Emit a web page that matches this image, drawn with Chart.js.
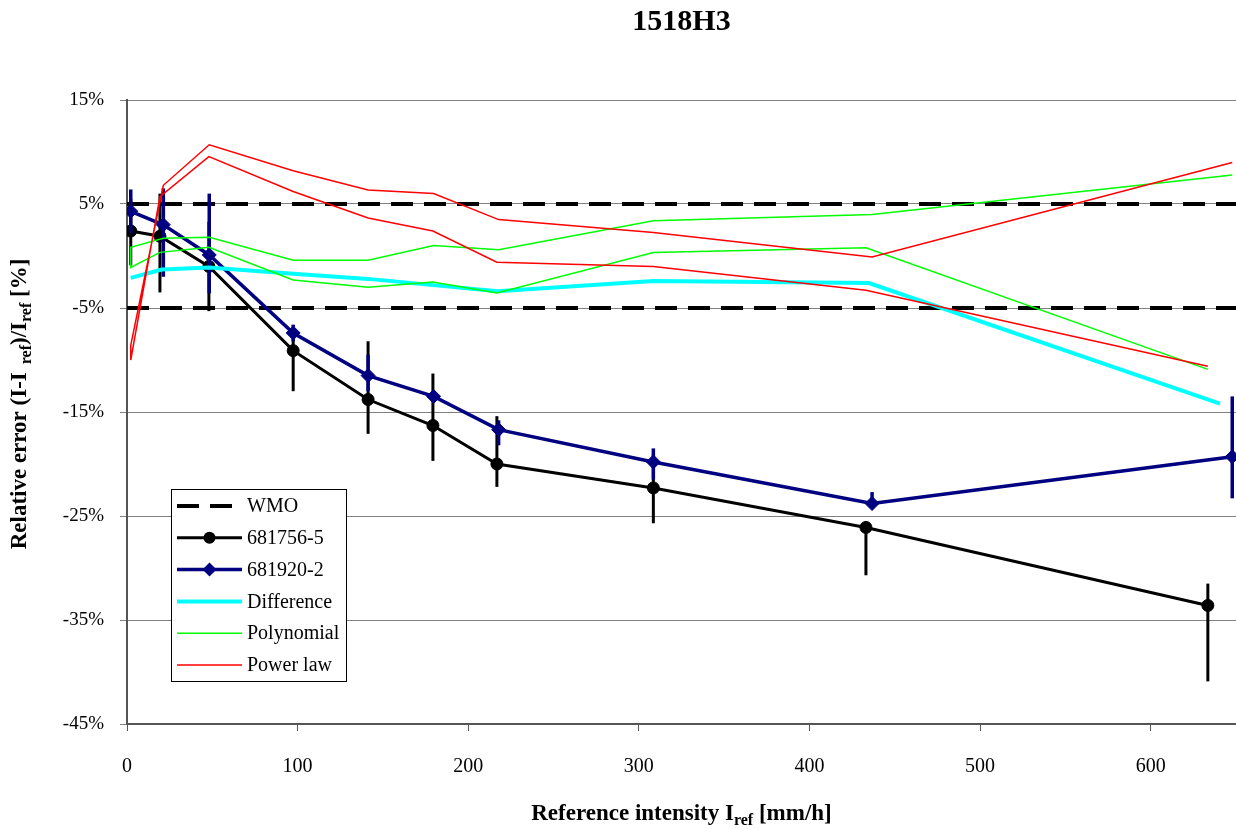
<!DOCTYPE html>
<html><head><meta charset="utf-8">
<script src="https://cdn.jsdelivr.net/npm/chart.js@4/dist/chart.umd.min.js"></script>
<style>html,body{margin:0;padding:0;background:#fff;overflow:hidden;}#wrap{width:1236px;height:829px;overflow:hidden;}</style>
</head><body><div id="wrap"><canvas id="c" width="1244" height="829"></canvas></div>
<script>
const chartTitle = '1518H3';
const xTickValues = [0, 100, 200, 300, 400, 500, 600];
const yTickValues = [-45, -35, -25, -15, -5, 5, 15];
const wmoX = [0, 650];
const wmoUpper = [5, 5];
const wmoLower = [-5, -5];

const s1Label = '681756-5';
const s1X  = [2.2, 19.3, 48.0, 97.4, 141.3, 179.3, 216.8, 308.5, 433.1, 633.5];
const s1Y  = [2.4, 1.9, -1.0, -9.1, -13.8, -16.3, -20.0, -22.3, -26.1, -33.6];
const s1Hi = [5.5, 6.0, 3.3, -7.0, -8.2, -11.3, -15.4, -19.0, -26.1, -31.5];
const s1Lo = [-0.9, -3.5, -5.3, -13.0, -17.1, -19.7, -22.2, -25.7, -30.7, -40.9];

const s2Label = '681920-2';
const s2X  = [2.2, 21.3, 48.2, 97.4, 141.3, 179.7, 217.8, 308.5, 436.7, 647.8];
const s2Y  = [4.3, 3.0, 0.1, -7.4, -11.5, -13.5, -16.7, -19.8, -23.8, -19.3];
const s2Hi = [6.4, 6.5, 6.0, -6.6, -9.5, -13.0, -15.8, -18.5, -22.7, -13.5];
const s2Lo = [2.2, -2.0, -3.6, -8.2, -13.0, -14.0, -18.2, -21.5, -23.8, -23.3];

const diffX = [2.2, 20.3, 48.1, 97.4, 141.3, 179.5, 217.3, 308.5, 434.9, 640.6];
const diffY = [-2.1, -1.3, -1.1, -1.7, -2.2, -2.8, -3.4, -2.4, -2.6, -14.2];

const polyA = [-1.1, 0.35, 0.84, -2.3, -3.0, -2.5, -3.55, 0.33, 0.8, -10.9];   // at s1X
const polyB = [0.84, 1.7, 1.8, -0.4, -0.4, 1.0, 0.6, 3.4, 4.0, 7.8];           // at s2X
const powA  = [-10.0, 5.7, 9.55, 6.2, 3.65, 2.4, -0.6, -1.0, -3.3, -10.6];     // at s1X
const powB  = [-8.6, 6.8, 10.7, 8.2, 6.35, 6.0, 3.5, 2.25, -0.1, 9.0];         // at s2X

const FONT = "'Liberation Serif', 'DejaVu Serif', serif";
const pts = (xs, ys) => xs.map((x, i) => ({x: x, y: ys[i]}));
const pathBack = (xs, ys) => pts(xs, ys).reverse();

const errorBars = {
  id: 'errorBars',
  beforeDatasetDraw(chart, args) {
    const ds = chart.data.datasets[args.index];
    if (!ds.errLow) return;
    const xs = chart.scales.x, ys = chart.scales.y, ctx = chart.ctx;
    ctx.save();
    ctx.strokeStyle = ds.errColor; ctx.lineWidth = ds.errWidth; ctx.lineCap = 'butt';
    ds.data.forEach((p, i) => {
      const px = xs.getPixelForValue(p.x);
      ctx.beginPath();
      ctx.moveTo(px, ys.getPixelForValue(ds.errHigh[i]));
      ctx.lineTo(px, ys.getPixelForValue(ds.errLow[i]));
      ctx.stroke();
    });
    ctx.restore();
  }
};

function drawRich(ctx, runs, cx, cy, rot) {
  ctx.save();
  ctx.translate(cx, cy);
  if (rot) ctx.rotate(-Math.PI / 2);
  ctx.textBaseline = 'alphabetic'; ctx.textAlign = 'left'; ctx.fillStyle = '#000';
  let total = 0;
  runs.forEach(r => { ctx.font = 'bold ' + r.s + 'px ' + FONT; r.w = ctx.measureText(r.t).width; total += r.w; });
  let x = -total / 2;
  runs.forEach(r => { ctx.font = 'bold ' + r.s + 'px ' + FONT; ctx.fillText(r.t, x, 8 + (r.dy || 0)); x += r.w; });
  ctx.restore();
}

const decorations = {
  id: 'decorations',
  afterDraw(chart) {
    const ctx = chart.ctx, ca = chart.chartArea;
    drawRich(ctx, [{t: 'Reference intensity I', s: 23}, {t: 'ref', s: 16, dy: 5}, {t: ' [mm/h]', s: 23}],
      (ca.left + ca.right) / 2, 812, false);
    drawRich(ctx, [{t: 'Relative error (I-I', s: 23}, {t: '  ref', s: 16, dy: 5}, {t: ')/I', s: 23},
      {t: 'ref', s: 16, dy: 5}, {t: ' [%]', s: 23}], 18, 404, true);
    const L = ca.left + 44, T = ca.top + 389, W = 175, H = 192, rowH = 31.8;
    ctx.save();
    ctx.fillStyle = '#fff'; ctx.fillRect(L, T, W, H);
    ctx.strokeStyle = '#000'; ctx.lineWidth = 1; ctx.strokeRect(L + 0.5, T + 0.5, W, H);
    const items = chart.data.datasets.filter(d => d.inLegend !== false);
    items.forEach((d, i) => {
      const y = T + 17 + i * rowH, x0 = L + 6, x1 = L + 71, xm = (x0 + x1) / 2;
      ctx.save();
      ctx.strokeStyle = d.borderColor; ctx.lineWidth = d.borderWidth;
      ctx.setLineDash(d.borderDash || []);
      ctx.beginPath(); ctx.moveTo(x0, y); ctx.lineTo(x1, y); ctx.stroke();
      ctx.setLineDash([]);
      if (d.pointRadius > 0) {
        ctx.fillStyle = d.backgroundColor;
        ctx.beginPath();
        if (d.pointStyle === 'rectRot') {
          const r = d.pointRadius;
          ctx.moveTo(xm, y - r); ctx.lineTo(xm + r, y); ctx.lineTo(xm, y + r); ctx.lineTo(xm - r, y); ctx.closePath();
        } else {
          ctx.arc(xm, y, d.pointRadius, 0, Math.PI * 2);
        }
        ctx.fill();
      }
      ctx.restore();
      ctx.fillStyle = '#000'; ctx.font = '20px ' + FONT; ctx.textBaseline = 'middle'; ctx.textAlign = 'left';
      ctx.fillText(d.label, L + 76, y + 1);
    });
    ctx.restore();
  }
};

new Chart(document.getElementById('c'), {
  type: 'scatter',
  data: {
    datasets: [
      {label: 'WMO', data: pts(wmoX, wmoUpper), showLine: true, borderColor: '#000', backgroundColor: '#000',
       borderWidth: 4, borderDash: [22, 11], pointRadius: 0, order: 7},
      {label: 'WMO', data: pts(wmoX, wmoLower), showLine: true, borderColor: '#000', backgroundColor: '#000',
       borderWidth: 4, borderDash: [22, 11], pointRadius: 0, order: 7, inLegend: false},
      {label: s1Label, data: pts(s1X, s1Y), showLine: true, borderColor: '#000', backgroundColor: '#000',
       borderWidth: 3, pointRadius: 6, pointStyle: 'circle', pointBorderWidth: 1, order: 6,
       errHigh: s1Hi, errLow: s1Lo, errColor: '#000', errWidth: 3},
      {label: s2Label, data: pts(s2X, s2Y), showLine: true, borderColor: '#000080', backgroundColor: '#000080',
       borderWidth: 3.5, pointRadius: 7, pointStyle: 'rectRot', pointBorderWidth: 1, order: 5,
       errHigh: s2Hi, errLow: s2Lo, errColor: '#000080', errWidth: 3.5},
      {label: 'Difference', data: pts(diffX, diffY), showLine: true, borderColor: '#00FFFF', backgroundColor: '#00FFFF',
       borderWidth: 4, pointRadius: 0, order: 4},
      {label: 'Polynomial', data: pathBack(s1X, polyA).concat(pts(s2X, polyB)), showLine: true,
       borderColor: '#00FF00', backgroundColor: '#00FF00', borderWidth: 1.5, pointRadius: 0, order: 3},
      {label: 'Power law', data: pathBack(s1X, powA).concat(pts(s2X, powB)), showLine: true,
       borderColor: '#FF0000', backgroundColor: '#FF0000', borderWidth: 1.5, pointRadius: 0, order: 2}
    ]
  },
  options: {
    responsive: false, animation: false, devicePixelRatio: 1,
    layout: {padding: 0},
    plugins: {
      legend: {display: false},
      tooltip: {enabled: false},
      title: {display: true, text: chartTitle, fullSize: false, color: '#000',
        font: {family: FONT, size: 30, weight: 'bold'}, padding: {top: 4, bottom: 60}}
    },
    scales: {
      x: {type: 'linear', min: 0, max: 650,
        afterFit: s => { s.height = 105; },
        afterBuildTicks: s => { s.ticks = xTickValues.map(v => ({value: v})); },
        ticks: {color: '#000', font: {family: FONT, size: 20}, padding: 24, maxRotation: 0},
        grid: {display: true, drawOnChartArea: false, drawTicks: true, tickLength: 7, color: '#555', lineWidth: 1},
        border: {display: true, color: '#555', width: 2}
      },
      y: {type: 'linear', min: -45, max: 15,
        afterFit: s => { s.width = 127; },
        afterBuildTicks: s => { s.ticks = yTickValues.map(v => ({value: v})); },
        ticks: {color: '#000', font: {family: FONT, size: 19}, padding: 16, callback: v => v + '%'},
        grid: {display: true, drawTicks: true, tickLength: 7, color: '#808080', lineWidth: 1},
        border: {display: true, color: '#555', width: 2}
      }
    }
  },
  plugins: [errorBars, decorations]
});
</script></body></html>
